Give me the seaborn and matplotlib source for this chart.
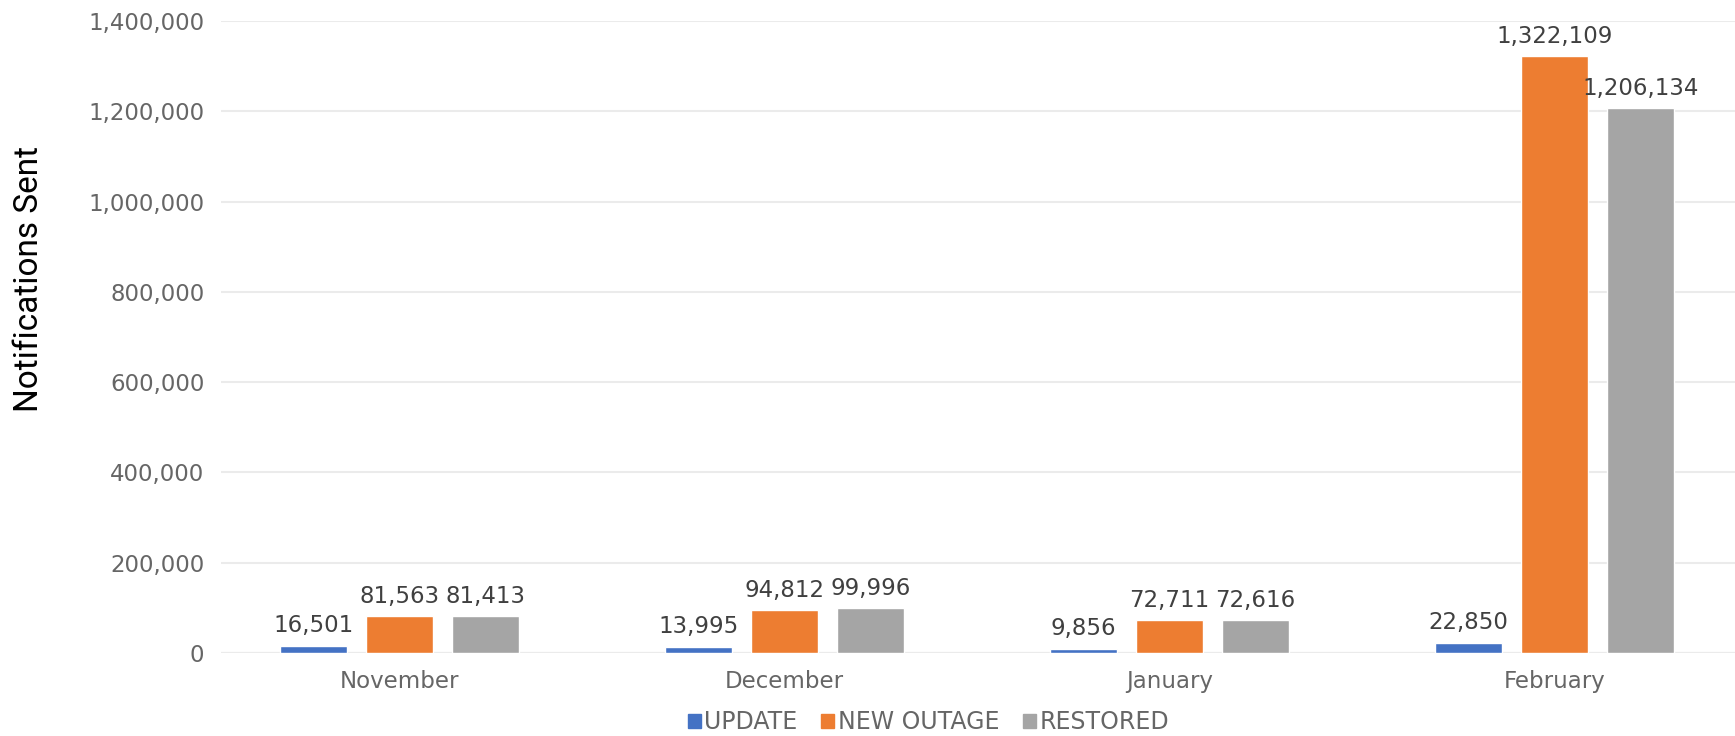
import matplotlib
matplotlib.use("Agg")
import matplotlib.pyplot as plt
import seaborn as sns
import pandas as pd

# Dati
months = ["November", "December", "January", "February"]
update = [16501, 13995, 9856, 22850]
new_outage = [81563, 94812, 72711, 1322109]
restored = [81413, 99996, 72616, 1206134]
series_names = ["UPDATE", "NEW OUTAGE", "RESTORED"]
colors = ["#4472C4", "#ED7D31", "#A5A5A5"]
y_ticks = [0, 200000, 400000, 600000, 800000, 1000000, 1200000, 1400000]

df = pd.DataFrame({
    "Month": months * 3,
    "Type": [s for s in series_names for _ in months],
    "Value": update + new_outage + restored,
})

sns.set_theme(style="white")
plt.rcParams["font.family"] = ["DejaVu Sans"]

fig = plt.figure(figsize=(17.35, 7.36), dpi=100)
ax = fig.add_axes([0.1274, 0.1128, 0.8726, 0.8587])

sns.barplot(data=df, x="Month", y="Value", hue="Type", order=months,
            hue_order=series_names, palette=colors, width=0.67, gap=0.215,
            saturation=1, ax=ax, legend=False)

for c in ax.containers:
    ax.bar_label(c, labels=[f"{v:,.0f}" for v in c.datavalues],
                 padding=6, fontsize=16.5, color="#404040")

ax.set_ylim(0, 1400000)
ax.set_xlim(-0.464, 3.469)
ax.set_yticks(y_ticks)
ax.set_yticklabels([f"{v:,}" for v in y_ticks])
ax.yaxis.grid(True, color="#EBEBEB", linewidth=1.5)
ax.set_axisbelow(True)
for s in ax.spines.values():
    s.set_visible(False)
ax.axhline(0, color="#D9D9D9", linewidth=1.5, zorder=0)
ax.tick_params(axis="both", labelsize=16.5, colors="#666666", length=0, pad=12)
ax.set_xlabel("")
ax.set_ylabel("")

fig.text(0.017, 0.621, "Notifications Sent", rotation=90, va="center",
         ha="center", fontsize=24, color="black",
         family=["Liberation Sans Narrow", "Roboto", "DejaVu Sans"])

handles = [plt.Rectangle((0, 0), 1, 1, color=c) for c in colors]
fig.legend(handles, series_names, loc="center", bbox_to_anchor=(0.535, 0.019),
           ncol=3, frameon=False, fontsize=17, labelcolor="#666666",
           handlelength=0.55, handleheight=0.55, handletextpad=0.15,
           columnspacing=1.0)

fig.savefig("out.png", dpi=100)
